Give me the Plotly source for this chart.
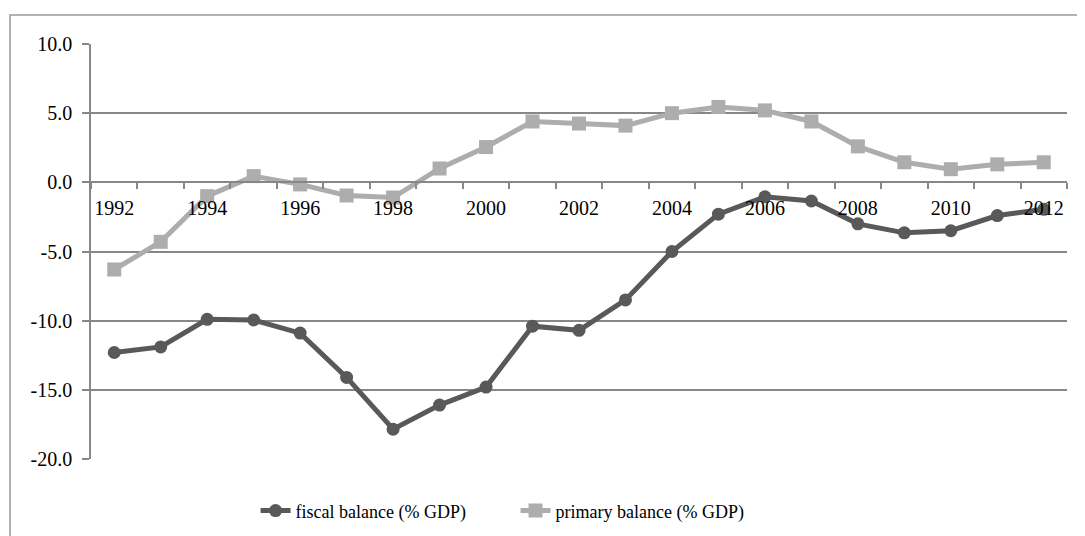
import plotly.graph_objects as go

years = list(range(1992, 2013))
fiscal = [-12.3, -11.9, -9.9, -9.95, -10.9, -14.1, -17.85, -16.1, -14.8, -10.4, -10.7,
          -8.5, -5.0, -2.3, -1.05, -1.35, -3.0, -3.65, -3.5, -2.4, -1.95]
primary = [-6.3, -4.3, -1.0, 0.45, -0.15, -0.95, -1.1, 1.0, 2.55, 4.4, 4.25,
           4.1, 5.0, 5.45, 5.2, 4.4, 2.6, 1.45, 0.95, 1.3, 1.45]
xtick_labels = [str(y) for y in range(1992, 2013, 2)]
ytick_vals = [-20, -15, -10, -5, 0, 5, 10]
ytick_text = ["-20.0", "-15.0", "-10.0", "-5.0", "0.0", "5.0", "10.0"]

dark = "#595959"
light = "#adadad"
axis_col = "#878787"
font = "Liberation Serif, Times New Roman, serif"

fig = go.Figure()
fig.add_trace(go.Scatter(x=years, y=fiscal, mode="lines+markers", name="fiscal balance (% GDP)",
                         line=dict(color=dark, width=5), marker=dict(symbol="circle", size=13, color=dark)))
fig.add_trace(go.Scatter(x=years, y=primary, mode="lines+markers", name="primary balance (% GDP)",
                         line=dict(color=light, width=5), marker=dict(symbol="square", size=14, color=light)))

fig.update_layout(
    width=1085, height=536,
    margin=dict(l=83, r=26, t=36, b=85),
    paper_bgcolor="white", plot_bgcolor="white",
    font=dict(family=font, size=20, color="black"),
    showlegend=True,
    legend=dict(orientation="h", x=0.435, xanchor="center", y=-0.125, yanchor="middle",
                font=dict(family=font, size=18), entrywidth=215, tracegroupgap=0),
    xaxis=dict(range=[1991.5, 2012.5], anchor="free", position=2/3,
               tickvals=[int(t) for t in xtick_labels], ticktext=xtick_labels,
               ticks="", showgrid=False, zeroline=False,
               showline=True, linecolor=axis_col, linewidth=1.5,
               ticklabelstandoff=8,
               minor=dict(tick0=1991.5, dtick=1, ticks="outside", ticklen=6,
                          tickcolor=axis_col, tickwidth=1.5, showgrid=False)),
    yaxis=dict(range=[-20, 10], tickvals=ytick_vals, ticktext=ytick_text,
               ticks="outside", ticklen=7, tickcolor=axis_col, tickwidth=1.5,
               showgrid=True, gridcolor=axis_col, gridwidth=1.5, zeroline=False,
               showline=True, linecolor=axis_col, linewidth=1.5,
               ticklabelstandoff=6),
    shapes=[dict(type="rect", xref="paper", yref="paper",
                 x0=(10 - 91) / 976, x1=1.2, y0=-0.5, y1=(459 - 15) / 415,
                 line=dict(color="#999999", width=1.5), fillcolor="rgba(0,0,0,0)", layer="below")],
)

fig.write_html("out.html")
